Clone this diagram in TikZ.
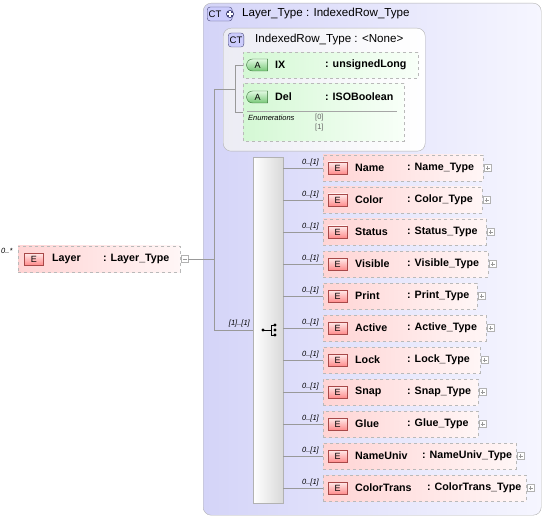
\documentclass[tikz,border=0pt]{standalone}
\usepackage{fontspec}
\setmainfont{Liberation Sans}
\usepackage{xcolor}
\usepackage{tikz}
\usetikzlibrary{positioning, shapes.misc}

\definecolor{ctleft}{RGB}{212,212,248}
\definecolor{ctright}{RGB}{246,246,255}
\definecolor{rowleft}{RGB}{236,236,244}
\definecolor{elemleft}{RGB}{255,212,212}
\definecolor{elemright}{RGB}{255,246,246}
\definecolor{attrleft}{RGB}{212,248,212}
\definecolor{attrright}{RGB}{248,255,248}
\definecolor{ered}{RGB}{168,72,72}
\definecolor{agreen}{RGB}{50,110,50}
\definecolor{atop}{RGB}{225,250,225}
\definecolor{abottom}{RGB}{120,200,120}
\definecolor{ctblue}{RGB}{70,70,120}

\begin{document}
\begin{tikzpicture}[x=1pt, y=-1pt, font=\fontsize{10.5}{12}\selectfont,
    conn/.style={draw=gray!80, line width=0.6pt},
    ctbox/.style={draw=gray!60, rounded corners=8pt, inner sep=0pt, anchor=north west},
    elembox/.style={draw=gray!55, dashed, left color=elemleft, right color=elemright, inner sep=0pt, minimum height=26pt, anchor=west},
    attrbox/.style={chamfered rectangle, chamfered rectangle corners={north west, south west}, chamfered rectangle xsep=7pt, draw=gray!55, dashed, left color=attrleft, right color=attrright, inner sep=0pt, anchor=north west},
    ebadge/.style={draw=ered, top color=red!8, bottom color=red!45, minimum width=19pt, minimum height=12pt, inner sep=0pt, font=\fontsize{9}{9}\selectfont},
    abadge/.style={rounded rectangle, rounded rectangle right arc=none, draw=agreen, top color=atop, bottom color=abottom, minimum width=21pt, minimum height=12pt, inner sep=0pt, font=\fontsize{9}{9}\selectfont},
    ctbadge/.style={draw=ctblue, rounded corners=3pt, fill=ctleft!80!blue!60, minimum height=14pt, inner sep=1.5pt, font=\fontsize{9.5}{10}\selectfont},
    ename/.style={anchor=west, inner sep=0pt, font=\bfseries\fontsize{10.7}{12}\selectfont},
    etype/.style={anchor=west, inner sep=0pt, font=\bfseries\fontsize{10.7}{12}\selectfont},
    card/.style={anchor=south east, inner sep=1pt, font=\itshape\fontsize{7.5}{8}\selectfont},
    plusbox/.style={draw=gray!60, fill=white, minimum size=7pt, inner sep=0pt,
        path picture={\draw[gray!80, line width=0.4pt]
            ([xshift=-2pt]path picture bounding box.center) -- ([xshift=2pt]path picture bounding box.center)
            ([yshift=-2pt]path picture bounding box.center) -- ([yshift=2pt]path picture bounding box.center);}},
    minusbox/.style={draw=gray!60, fill=white, minimum size=7pt, inner sep=0pt,
        path picture={\draw[gray!80, line width=0.4pt]
            ([xshift=-2pt]path picture bounding box.center) -- ([xshift=2pt]path picture bounding box.center);}}]

    \useasboundingbox (0,0) rectangle (545,518);

    % Complex type Layer_Type
    \node[ctbox, left color=ctleft, right color=ctright, minimum width=338pt, minimum height=512pt] (ltype) at (203,3) {};
    \node[ctbadge, anchor=west, text width=22pt] (ltype-b) at (207,14) {CT};
    \fill[ctblue] (230,14) circle (4pt);
    \draw[white, line width=1.2pt] (227.3,14) -- (232.7,14) (230,11.3) -- (230,16.7);
    \node[anchor=west, inner sep=0pt, font=\fontsize{11.6}{13}\selectfont] (ltype-t) at (242,14) {Layer\_Type : IndexedRow\_Type};

    % Base type IndexedRow_Type
    \node[ctbox, left color=rowleft, right color=white, minimum width=202pt, minimum height=123pt] (irow) at (223,28) {};
    \node[ctbadge, anchor=west] (irow-b) at (228,40) {CT};
    \node[anchor=west, inner sep=0pt, font=\fontsize{11.6}{13}\selectfont] (irow-t) at (255,40) {IndexedRow\_Type : <None>};

    % Attribute IX
    \node[attrbox, minimum width=175pt, minimum height=26pt] (ix) at (243,52) {};
    \node[abadge] (ix-a) at (257.5,65) {A};
    \node[ename] (ix-n) at (275,65) {IX};
    \node[etype] (ix-t) at (325,65) {: unsignedLong};

    % Attribute Del
    \node[attrbox, minimum width=161pt, minimum height=58pt] (del) at (243,83) {};
    \node[abadge] (del-a) at (257.5,97) {A};
    \node[ename] (del-n) at (275,97) {Del};
    \node[etype] (del-t) at (325,97) {: ISOBoolean};
    \draw[gray!70] (247,111) -- (397,111);
    \node[anchor=west, inner sep=0pt, font=\itshape\fontsize{7.5}{8}\selectfont] (del-enum) at (248,118) {Enumerations};
    \node[anchor=west, inner sep=0pt, text=gray!80!black, font=\fontsize{7.5}{8}\selectfont] (del-v0) at (315,118) {[0]};
    \node[anchor=west, inner sep=0pt, text=gray!80!black, font=\fontsize{7.5}{8}\selectfont] (del-v1) at (315,128) {[1]};

    % Element Layer
    \node[elembox, minimum width=162pt] (layer) at (18,259) {};
    \node[ebadge] (layer-e) at (34,259) {E};
    \node[ename] (layer-n) at (52,259) {Layer};
    \node[etype] (layer-t) at (103,259) {: Layer\_Type};
    \node[minusbox] (layer-m) at (184.5,259) {};
    \node[card, anchor=south west] (layer-c) at (0,255) {0..*};

    % Sequence
    \node[draw=gray!60, left color=white, right color=gray!30, minimum width=30pt, minimum height=346pt, inner sep=0pt, anchor=north west] (seq) at (253,157) {};
    \coordinate (seq-in) at (263,330);
    \fill (seq-in) circle (1.6pt);
    \draw (seq-in) -- (271,330) (271,325) -- (271,335) (271,325) -- (275,325) (271,335) -- (275,335);
    \foreach \y in {325,330,335} \fill (275,\y) circle (1.6pt);
    \node[card, anchor=south east] (seq-c) at (251,328) {[1]..[1]};

    % Connectors
    \coordinate (trunk-top) at (214,89);
    \coordinate (attr-fork) at (235,89);
    \draw[conn] (layer-m.east) -| (trunk-top);
    \draw[conn] (trunk-top) |- (seq.west);
    \draw[conn] (trunk-top) -- (attr-fork);
    \draw[conn] (attr-fork) |- (ix.west);
    \draw[conn] (attr-fork) |- (del.west);

    % Name
    \node[elembox, minimum width=160pt] (name) at (323,168) {};
    \node[ebadge] (name-e) at (337.5,168) {E};
    \node[ename] (name-n) at (355,168) {Name};
    \node[etype] (name-t) at (407,168) {: Name\_Type};
    \node[plusbox] (name-p) at (487.5,168) {};
    \node[card] (name-c) at (320,167) {0..[1]};
    \draw[conn] (seq.east |- name.west) -- (name.west);

    % Color
    \node[elembox, minimum width=159pt] (color) at (323,200) {};
    \node[ebadge] (color-e) at (337.5,200) {E};
    \node[ename] (color-n) at (355,200) {Color};
    \node[etype] (color-t) at (407,200) {: Color\_Type};
    \node[plusbox] (color-p) at (486.5,200) {};
    \node[card] (color-c) at (320,199) {0..[1]};
    \draw[conn] (seq.east |- color.west) -- (color.west);

    % Status
    \node[elembox, minimum width=163pt] (status) at (323,232) {};
    \node[ebadge] (status-e) at (337.5,232) {E};
    \node[ename] (status-n) at (355,232) {Status};
    \node[etype] (status-t) at (407,232) {: Status\_Type};
    \node[plusbox] (status-p) at (490.5,232) {};
    \node[card] (status-c) at (320,231) {0..[1]};
    \draw[conn] (seq.east |- status.west) -- (status.west);

    % Visible
    \node[elembox, minimum width=165pt] (visible) at (323,264) {};
    \node[ebadge] (visible-e) at (337.5,264) {E};
    \node[ename] (visible-n) at (355,264) {Visible};
    \node[etype] (visible-t) at (407,264) {: Visible\_Type};
    \node[plusbox] (visible-p) at (492.5,264) {};
    \node[card] (visible-c) at (320,263) {0..[1]};
    \draw[conn] (seq.east |- visible.west) -- (visible.west);

    % Print
    \node[elembox, minimum width=154pt] (print) at (323,296) {};
    \node[ebadge] (print-e) at (337.5,296) {E};
    \node[ename] (print-n) at (355,296) {Print};
    \node[etype] (print-t) at (407,296) {: Print\_Type};
    \node[plusbox] (print-p) at (481.5,296) {};
    \node[card] (print-c) at (320,295) {0..[1]};
    \draw[conn] (seq.east |- print.west) -- (print.west);

    % Active
    \node[elembox, minimum width=163pt] (active) at (323,328) {};
    \node[ebadge] (active-e) at (337.5,328) {E};
    \node[ename] (active-n) at (355,328) {Active};
    \node[etype] (active-t) at (407,328) {: Active\_Type};
    \node[plusbox] (active-p) at (490.5,328) {};
    \node[card] (active-c) at (320,327) {0..[1]};
    \draw[conn] (seq.east |- active.west) -- (active.west);

    % Lock
    \node[elembox, minimum width=157pt] (lock) at (323,360) {};
    \node[ebadge] (lock-e) at (337.5,360) {E};
    \node[ename] (lock-n) at (355,360) {Lock};
    \node[etype] (lock-t) at (407,360) {: Lock\_Type};
    \node[plusbox] (lock-p) at (484.5,360) {};
    \node[card] (lock-c) at (320,359) {0..[1]};
    \draw[conn] (seq.east |- lock.west) -- (lock.west);

    % Snap
    \node[elembox, minimum width=155pt] (snap) at (323,392) {};
    \node[ebadge] (snap-e) at (337.5,392) {E};
    \node[ename] (snap-n) at (355,392) {Snap};
    \node[etype] (snap-t) at (407,392) {: Snap\_Type};
    \node[plusbox] (snap-p) at (482.5,392) {};
    \node[card] (snap-c) at (320,391) {0..[1]};
    \draw[conn] (seq.east |- snap.west) -- (snap.west);

    % Glue
    \node[elembox, minimum width=155pt] (glue) at (323,424) {};
    \node[ebadge] (glue-e) at (337.5,424) {E};
    \node[ename] (glue-n) at (355,424) {Glue};
    \node[etype] (glue-t) at (407,424) {: Glue\_Type};
    \node[plusbox] (glue-p) at (482.5,424) {};
    \node[card] (glue-c) at (320,423) {0..[1]};
    \draw[conn] (seq.east |- glue.west) -- (glue.west);

    % NameUniv
    \node[elembox, minimum width=193pt] (nameuniv) at (323,456) {};
    \node[ebadge] (nameuniv-e) at (337.5,456) {E};
    \node[ename] (nameuniv-n) at (355,456) {NameUniv};
    \node[etype] (nameuniv-t) at (422,456) {: NameUniv\_Type};
    \node[plusbox] (nameuniv-p) at (520.5,456) {};
    \node[card] (nameuniv-c) at (320,455) {0..[1]};
    \draw[conn] (seq.east |- nameuniv.west) -- (nameuniv.west);

    % ColorTrans
    \node[elembox, minimum width=203pt] (colortrans) at (323,488) {};
    \node[ebadge] (colortrans-e) at (337.5,488) {E};
    \node[ename] (colortrans-n) at (355,488) {ColorTrans};
    \node[etype] (colortrans-t) at (427,488) {: ColorTrans\_Type};
    \node[plusbox] (colortrans-p) at (530.5,488) {};
    \node[card] (colortrans-c) at (320,487) {0..[1]};
    \draw[conn] (seq.east |- colortrans.west) -- (colortrans.west);
\end{tikzpicture}
\end{document}
